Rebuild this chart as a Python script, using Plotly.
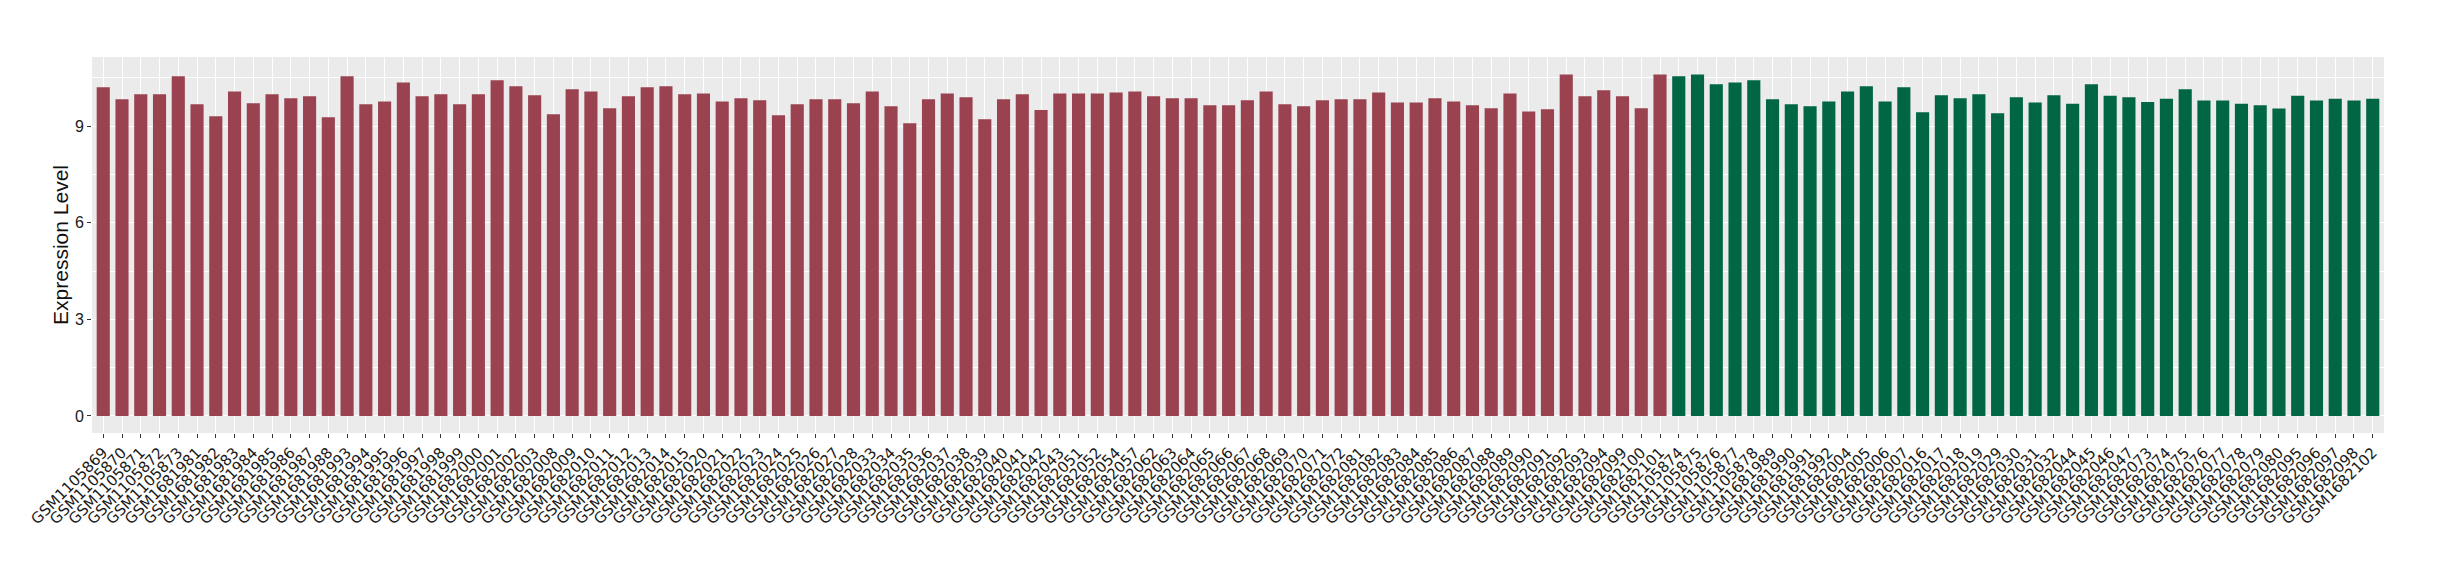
import plotly.graph_objects as go

group_a_samples = [
    "GSM1105869", "GSM1105870", "GSM1105871", "GSM1105872", "GSM1105873",
    "GSM1681981", "GSM1681982", "GSM1681983", "GSM1681984", "GSM1681985",
    "GSM1681986", "GSM1681987", "GSM1681988", "GSM1681993", "GSM1681994",
    "GSM1681995", "GSM1681996", "GSM1681997", "GSM1681998", "GSM1681999",
    "GSM1682000", "GSM1682001", "GSM1682002", "GSM1682003", "GSM1682008",
    "GSM1682009", "GSM1682010", "GSM1682011", "GSM1682012", "GSM1682013",
    "GSM1682014", "GSM1682015", "GSM1682020", "GSM1682021", "GSM1682022",
    "GSM1682023", "GSM1682024", "GSM1682025", "GSM1682026", "GSM1682027",
    "GSM1682028", "GSM1682033", "GSM1682034", "GSM1682035", "GSM1682036",
    "GSM1682037", "GSM1682038", "GSM1682039", "GSM1682040", "GSM1682041",
    "GSM1682042", "GSM1682043", "GSM1682051", "GSM1682052", "GSM1682054",
    "GSM1682057", "GSM1682062", "GSM1682063", "GSM1682064", "GSM1682065",
    "GSM1682066", "GSM1682067", "GSM1682068", "GSM1682069", "GSM1682070",
    "GSM1682071", "GSM1682072", "GSM1682081", "GSM1682082", "GSM1682083",
    "GSM1682084", "GSM1682085", "GSM1682086", "GSM1682087", "GSM1682088",
    "GSM1682089", "GSM1682090", "GSM1682091", "GSM1682092", "GSM1682093",
    "GSM1682094", "GSM1682099", "GSM1682100", "GSM1682101",
]
group_a_values = [
    10.21, 9.84, 9.99, 9.99, 10.55, 9.68, 9.31, 10.08, 9.71, 9.99,
    9.87, 9.93, 9.28, 10.55, 9.68, 9.77, 10.36, 9.93, 9.99, 9.68,
    9.99, 10.43, 10.24, 9.96, 9.37, 10.15, 10.08, 9.56, 9.93, 10.21,
    10.24, 9.99, 10.02, 9.77, 9.87, 9.81, 9.34, 9.68, 9.84, 9.84,
    9.71, 10.08, 9.62, 9.09, 9.84, 10.02, 9.90, 9.22, 9.84, 9.99,
    9.50, 10.02, 10.02, 10.02, 10.05, 10.08, 9.93, 9.87, 9.87, 9.65,
    9.65, 9.81, 10.08, 9.68, 9.62, 9.81, 9.84, 9.84, 10.05, 9.74,
    9.74, 9.87, 9.77, 9.65, 9.56, 10.02, 9.46, 9.53, 10.61, 9.93,
    10.12, 9.93, 9.56, 10.61,
]

group_b_samples = [
    "GSM1105874", "GSM1105875", "GSM1105876", "GSM1105877", "GSM1105878",
    "GSM1681989", "GSM1681990", "GSM1681991", "GSM1681992", "GSM1682004",
    "GSM1682005", "GSM1682006", "GSM1682007", "GSM1682016", "GSM1682017",
    "GSM1682018", "GSM1682019", "GSM1682029", "GSM1682030", "GSM1682031",
    "GSM1682032", "GSM1682044", "GSM1682045", "GSM1682046", "GSM1682047",
    "GSM1682073", "GSM1682074", "GSM1682075", "GSM1682076", "GSM1682077",
    "GSM1682078", "GSM1682079", "GSM1682080", "GSM1682095", "GSM1682096",
    "GSM1682097", "GSM1682098", "GSM1682102",
]
group_b_values = [
    10.55, 10.61, 10.30, 10.36, 10.43, 9.84, 9.68, 9.62, 9.77, 10.08,
    10.24, 9.77, 10.21, 9.43, 9.96, 9.87, 9.99, 9.40, 9.90, 9.74,
    9.96, 9.70, 10.30, 9.95, 9.90, 9.75, 9.85, 10.15, 9.80, 9.80,
    9.70, 9.65, 9.55, 9.95, 9.80, 9.85, 9.80, 9.85,
]

y_tick_values = [0, 3, 6, 9]
y_axis_title = "Expression Level"

all_samples = group_a_samples + group_b_samples

fig = go.Figure()
fig.add_trace(go.Bar(x=group_a_samples, y=group_a_values, marker_color="#9A4250",
                     marker_line_width=0, width=0.7, showlegend=False))
fig.add_trace(go.Bar(x=group_b_samples, y=group_b_values, marker_color="#006644",
                     marker_line_width=0, width=0.7, showlegend=False))

# the page body adds an 8px offset on the left/top, so the figure is sized to compensate
fig.update_layout(
    width=2432, height=572,
    margin=dict(l=84, r=56, t=49, b=147),
    paper_bgcolor="white",
    plot_bgcolor="#EBEBEB",
    bargap=0.3,
    font=dict(family="Liberation Sans", color="#222222"),
)
fig.update_xaxes(
    type="category",
    categoryorder="array", categoryarray=all_samples,
    tickmode="array", tickvals=all_samples, ticktext=all_samples,
    range=[-0.6, len(all_samples) - 0.4],
    tickangle=-45,
    tickfont=dict(family="DejaVu Sans", size=15, color="#1a1a1a"),
    showgrid=True, gridcolor="white", gridwidth=1.1,
    ticks="outside", ticklen=4, tickcolor="#333333", tickwidth=1,
    showline=False, zeroline=False, automargin=False,
)
fig.update_yaxes(
    range=[-0.53, 11.15],
    tickmode="array", tickvals=y_tick_values,
    tickfont=dict(family="Liberation Sans", size=16, color="#1a1a1a"),
    showgrid=True, gridcolor="white", gridwidth=1.2,
    minor=dict(tickmode="linear", tick0=0, dtick=1.5, showgrid=True,
               gridcolor="white", gridwidth=0.6, ticks=""),
    ticks="outside", ticklen=4, tickcolor="#333333", tickwidth=1,
    zeroline=False, showline=False, automargin=False,
    title=dict(text=y_axis_title, font=dict(family="Liberation Sans", size=21, color="#111111"),
               standoff=0),
)

fig.write_html("out.html")
